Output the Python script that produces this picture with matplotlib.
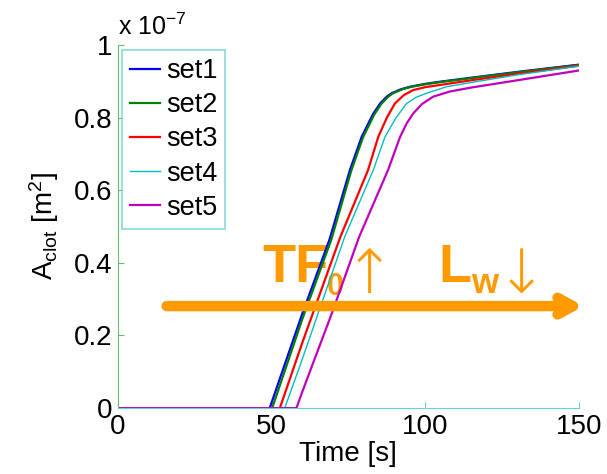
import matplotlib
matplotlib.use("Agg")
import matplotlib.pyplot as plt
from matplotlib.ticker import FormatStrFormatter

plt.rcParams['font.family'] = ['Liberation Sans', 'DejaVu Sans']
plt.rcParams['mathtext.fontset'] = 'custom'
plt.rcParams['mathtext.rm'] = 'Liberation Sans'
plt.rcParams['mathtext.it'] = 'Liberation Sans'
plt.rcParams['mathtext.bf'] = 'Liberation Sans:bold'

# clot area in units of 1e-7 m^2
t1 = [0, 49.4, 60, 68.8, 75.5, 79.3, 83, 85.3, 87.5, 89, 92, 95, 100, 104.8, 115, 130, 150]
a1 = [0, 0, 0.26, 0.463, 0.656, 0.747, 0.81, 0.839, 0.858, 0.867, 0.878, 0.885, 0.893, 0.899, 0.91, 0.926, 0.946]
t2 = [0, 50.2, 60, 69.4, 76, 79.8, 83.5, 85.8, 88, 89.5, 92.5, 95.5, 100, 105, 115, 130, 150]
a2 = [0, 0, 0.245, 0.463, 0.656, 0.747, 0.81, 0.839, 0.858, 0.867, 0.878, 0.885, 0.892, 0.898, 0.909, 0.925, 0.945]
t3 = [0, 52.7, 60, 72.4, 81.4, 84.7, 87.5, 90.1, 93, 96.1, 100, 104.8, 115, 130, 150]
a3 = [0, 0, 0.18, 0.472, 0.656, 0.747, 0.80, 0.839, 0.862, 0.876, 0.884, 0.89, 0.903, 0.921, 0.943]
t4 = [0, 54.3, 60, 73.8, 83.1, 86.9, 90.5, 93.9, 97, 100.3, 106.8, 115, 130, 150]
a4 = [0, 0, 0.135, 0.472, 0.656, 0.747, 0.80, 0.839, 0.856, 0.867, 0.885, 0.897, 0.918, 0.942]
t5 = [0, 58.1, 60, 70, 78.5, 87.9, 91.8, 94, 96.1, 99, 102.6, 108, 115, 130, 150]
a5 = [0, 0, 0.045, 0.27, 0.472, 0.656, 0.747, 0.785, 0.812, 0.838, 0.858, 0.872, 0.883, 0.903, 0.93]

names = ['set1', 'set2', 'set3', 'set4', 'set5']
colors = ['#0000ff', '#008000', '#ff0000', '#00bfbf', '#bf00bf']
widths = [1.6, 1.6, 1.6, 1.0, 1.6]
series = [(t1, a1), (t2, a2), (t3, a3), (t4, a4), (t5, a5)]

fig = plt.figure(figsize=(6.07, 4.74), dpi=100)
ax = fig.add_axes([0.194, 0.139, 0.760, 0.766])

for (t, a), n, c, w in zip(series, names, colors, widths):
    ax.plot(t, a, color=c, lw=w, label=n, zorder=2)

ax.set_xlim(0, 150)
ax.set_ylim(0, 1)
ax.set_xticks([0, 50, 100, 150])
ax.set_yticks([0, 0.2, 0.4, 0.6, 0.8, 1])
ax.yaxis.set_major_formatter(FormatStrFormatter('%g'))
ax.tick_params(direction='in', length=4, labelsize=20, pad=4)
ax.tick_params(axis='y', colors='#6ab86a', labelcolor='black')
ax.tick_params(axis='x', colors='#6ad0d0', labelcolor='black')
ax.spines['top'].set_visible(False)
ax.spines['right'].set_visible(False)
ax.spines['left'].set_color('#6ab86a')
ax.spines['bottom'].set_color('#6ad0d0')

ax.set_xlabel('Time [s]', fontsize=20, labelpad=1)
ax.set_ylabel(r'A$_{\rm clot}$ [m$^2$]', fontsize=20, labelpad=9)

ax.text(0.0, 1.015, r'x 10$^{-7}$', transform=ax.transAxes, fontsize=18,
        ha='left', va='bottom')

leg = ax.legend(loc='upper left', bbox_to_anchor=(0.01, 0.986), fontsize=19.5,
                frameon=True, fancybox=False, handlelength=1.1,
                handletextpad=0.2, labelspacing=0.3, borderpad=0.3,
                borderaxespad=0.0)
leg.get_frame().set_edgecolor('#6ad0d0')
leg.get_frame().set_linewidth(1.2)

orange = '#ff9a00'
ax.annotate('', xy=(151.5, 0.281), xytext=(15.9, 0.281),
            arrowprops=dict(arrowstyle='->,head_length=1.1,head_width=0.6',
                            color=orange, lw=7.5, shrinkA=0, shrinkB=0),
            annotation_clip=False, zorder=3)
ax.text(47.1, 0.348, 'TF', fontsize=39, fontweight='bold', color=orange,
        ha='left', va='baseline', zorder=1)
ax.text(68.0, 0.311, '0', fontsize=22, fontweight='bold', color=orange,
        ha='left', va='baseline', zorder=1)
ax.text(73.6, 0.317, '\u2191', fontsize=44, color=orange, ha='left',
        va='baseline', family=['DejaVu Sans'], fontweight='light', zorder=1)
ax.text(104.4, 0.348, 'L', fontsize=39, fontweight='bold', color=orange,
        ha='left', va='baseline', zorder=1)
ax.text(114.8, 0.316, 'w', fontsize=25, fontweight='bold', color=orange,
        ha='left', va='baseline', zorder=1)
ax.text(122.9, 0.317, '\u2193', fontsize=44, color=orange, ha='left',
        va='baseline', family=['DejaVu Sans'], fontweight='light', zorder=1)

fig.savefig('out.png', dpi=100)
